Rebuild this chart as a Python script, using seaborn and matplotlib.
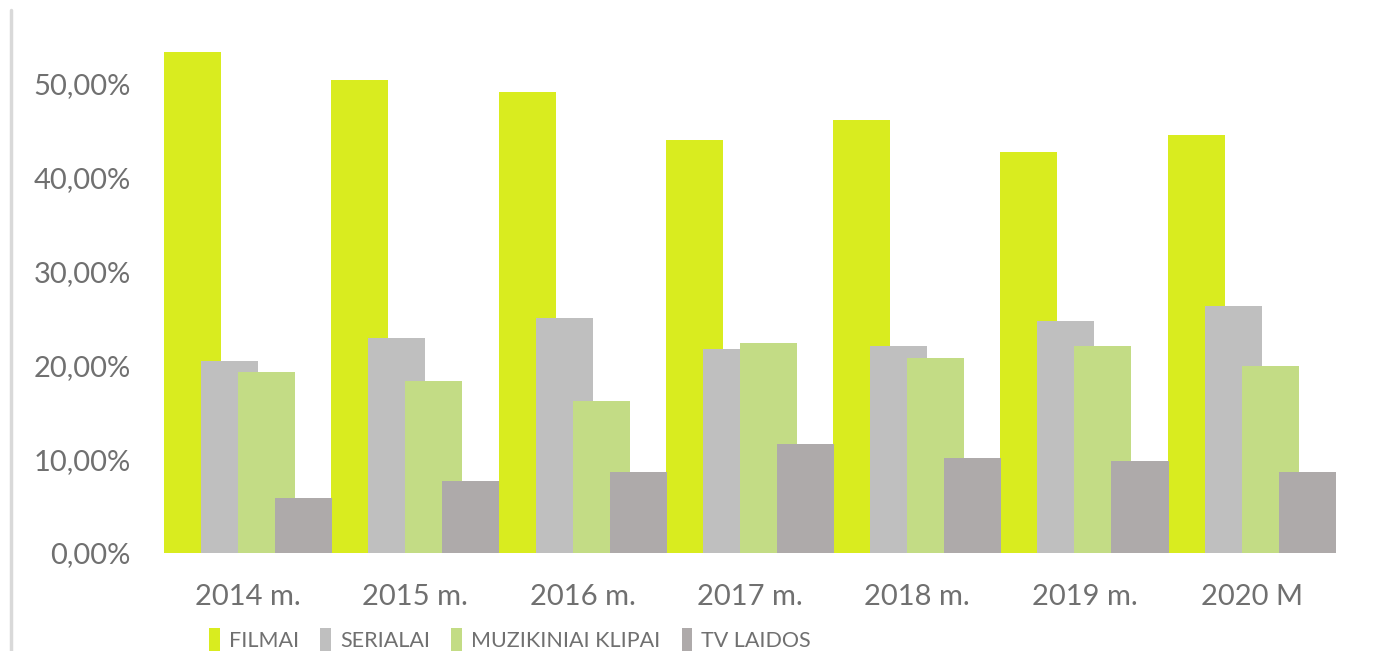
import pandas as pd
import matplotlib
matplotlib.use("Agg")
import matplotlib.pyplot as plt
from matplotlib.lines import Line2D
from matplotlib.ticker import FuncFormatter
import seaborn as sns

# duomenys (nuskaityti nuo paveikslo)
years = ["2014 m.", "2015 m.", "2016 m.", "2017 m.", "2018 m.", "2019 m.", "2020 M"]
series = ["FILMAI", "SERIALAI", "MUZIKINIAI KLIPAI", "TV LAIDOS"]
filmai = [0.534, 0.504, 0.491, 0.440, 0.462, 0.427, 0.446]
serialai = [0.205, 0.229, 0.251, 0.217, 0.221, 0.247, 0.263]
muzikiniai_klipai = [0.193, 0.183, 0.162, 0.224, 0.208, 0.221, 0.199]
tv_laidos = [0.059, 0.077, 0.086, 0.116, 0.101, 0.098, 0.086]
colors = ["#d9ec1f", "#bfbfbf", "#c3dc85", "#aeaaaa"]

df = pd.DataFrame({"year": years * 4,
                   "type": sum([[s] * len(years) for s in series], []),
                   "share": filmai + serialai + muzikiniai_klipai + tv_laidos})

sns.set_theme(style="white")
plt.rcParams["font.family"] = ["Lato", "DejaVu Sans"]
text_col = "#707070"

fig = plt.figure(figsize=(13.73, 6.51), dpi=100)
ax = fig.add_axes([150 / 1373, 0.1505, 1210 / 1373, 0.7925])

sns.barplot(data=df, x="year", y="share", hue="type", hue_order=series,
            palette=colors, saturation=1, width=0.885, gap=0, dodge=True,
            errorbar=None, ax=ax)

# persidengiantys stulpeliai (kaip Excel)
for p in ax.patches:
    w = p.get_width()
    nw = w * 57 / 37
    p.set_x(p.get_x() + w / 2 - nw / 2)
    p.set_width(nw)
    p.set_linewidth(0)

handles, labels = ax.get_legend_handles_labels()
ax.get_legend().remove()

ax.set_xlim(-0.586, 6.647)
ax.set_ylim(0, 0.55)
ax.set_yticks([0, 0.1, 0.2, 0.3, 0.4, 0.5])
ax.yaxis.set_major_formatter(FuncFormatter(lambda v, _: f"{v * 100:.2f}%".replace(".", ",")))
ax.set_xlabel("")
ax.set_ylabel("")
for s in ax.spines.values():
    s.set_visible(False)
ax.tick_params(axis="y", length=0, pad=14, labelsize=21, labelcolor=text_col)
ax.tick_params(axis="x", length=0, pad=22, labelsize=21, labelcolor=text_col)

fig.legend(handles, labels, loc="center", bbox_to_anchor=(510 / 1373, 1 - 640 / 651),
           ncol=4, frameon=False, fontsize=15.5, labelcolor=text_col,
           handlelength=0.5, handleheight=1.3, handletextpad=0.4, columnspacing=1.0)

# kairysis rėmelio kraštas
fig.add_artist(Line2D([11 / 1373, 11 / 1373], [0, 1 - 10 / 651],
                      transform=fig.transFigure, color="#d9d9d9", lw=2.5))

fig.savefig("out.png", dpi=100)
